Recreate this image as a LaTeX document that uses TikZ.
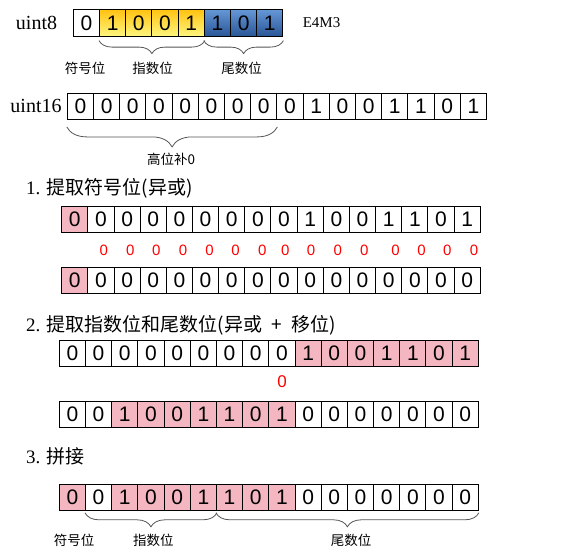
\documentclass[tikz,border=0pt]{standalone}
\usepackage{fontspec}
\setmainfont{Liberation Serif}
\newfontfamily\digitfont{Liberation Sans}
\newfontfamily\cjk{Noto Sans CJK SC}
\usetikzlibrary{decorations.pathreplacing}

\definecolor{cellpink}{RGB}{244,182,192}
\definecolor{goldtop}{RGB}{255,195,20}
\definecolor{goldbot}{RGB}{255,246,125}
\definecolor{bluetop}{RGB}{100,150,214}
\definecolor{bluebot}{RGB}{42,86,150}
\definecolor{bracegray}{RGB}{85,85,85}

\tikzset{
  bit/.style={draw, line width=1pt, minimum width=26.2pt, minimum height=26.2pt,
    inner sep=0pt, font=\digitfont\fontsize{21}{21}\selectfont},
  bitw/.style={bit, fill=white},
  bitp/.style={bit, fill=cellpink},
  bity/.style={bit, top color=goldtop, bottom color=goldbot},
  bitb/.style={bit, top color=bluetop, bottom color=bluebot},
  brc/.style={decorate, decoration={brace, mirror, amplitude=#1},
    draw=bracegray, line width=0.8pt},
  tag/.style={font=\cjk\fontsize{13.5}{13.5}\selectfont},
  heading/.style={anchor=west, font=\fontsize{19}{19}\selectfont},
  xorbit/.style={text=red, font=\digitfont\fontsize{15}{15}\selectfont}
}

\begin{document}
\begin{tikzpicture}[x=1pt, y=-1pt]
	\useasboundingbox (0,0) rectangle (579,555);

	% uint8 / E4M3
	\node[font=\fontsize{20}{20}\selectfont] (L8) at (36.5,23) {uint8};
	\foreach \b/\s [count=\i] in {0/bitw,1/bity,0/bity,0/bity,1/bity,1/bitb,0/bitb,1/bitb}
	  \node[\s] (u8-\i) at ({73.3+26.2*(\i-0.5)},23) {\b};
	\node[font=\fontsize{15}{15}\selectfont] (E) at (321.5,23) {E4M3};
	\draw[brc=13pt] ([yshift=-4pt]u8-2.south west) -- ([yshift=-4pt]u8-5.south east);
	\draw[brc=13pt] ([yshift=-4pt]u8-6.south west) -- ([yshift=-4pt]u8-8.south east);
	\node[tag] (S8) at (85,68) {符号位};
	\node[tag] (X8) at (152.5,68) {指数位};
	\node[tag] (M8) at (241.5,68) {尾数位};

	% uint16
	\node[font=\fontsize{20}{20}\selectfont] (L16) at (36,106.3) {uint16};
	\foreach \b [count=\i] in {0,0,0,0,0,0,0,0,0,1,0,0,1,1,0,1}
	  \node[bitw] (u16-\i) at ({67.3+26.2*(\i-0.5)},106.3) {\b};
	\draw[brc=20pt] ([yshift=-7pt]u16-1.south west) -- ([yshift=-7pt]u16-8.south east);
	\node[tag] (H) at (171,159) {高位补0};

	% 1.
	\node[heading] (T1) at (22.7,188.3) {1. {\cjk 提取符号位(异或)}};
	\foreach \b/\s [count=\i] in {0/bitp,0/bitw,0/bitw,0/bitw,0/bitw,0/bitw,0/bitw,0/bitw,
	    0/bitw,1/bitw,0/bitw,0/bitw,1/bitw,1/bitw,0/bitw,1/bitw}
	  \node[\s] (sx-\i) at ({61.7+26.16*(\i-0.5)},219.3) {\b};
	\foreach \x [count=\i] in {103.7,130.4,156.3,183,209.6,235.6,262.2,285.2,311.1,337.8,364.4,395.6,421.5,447.4,474}
	  \node[xorbit] (z-\i) at (\x,250.5) {0};
	\foreach \s [count=\i] in {bitp,bitw,bitw,bitw,bitw,bitw,bitw,bitw,bitw,bitw,bitw,bitw,bitw,bitw,bitw,bitw}
	  \node[\s] (sy-\i) at ({61.7+26.16*(\i-0.5)},280.3) {0};

	% 2.
	\node[heading] (T2) at (22.7,325) {2. {\cjk 提取指数位和尾数位(异或\hspace{0.5em}+\hspace{0.5em}移位)}};
	\foreach \b/\s [count=\i] in {0/bitw,0/bitw,0/bitw,0/bitw,0/bitw,0/bitw,0/bitw,0/bitw,
	    0/bitw,1/bitp,0/bitp,0/bitp,1/bitp,1/bitp,0/bitp,1/bitp}
	  \node[\s] (ex-\i) at ({59.3+26.19*(\i-0.5)},353.3) {\b};
	\node[xorbit, font=\digitfont\fontsize{17}{17}\selectfont] (z0) at (282.2,381.7) {0};
	\foreach \b/\s [count=\i] in {0/bitw,0/bitw,1/bitp,0/bitp,0/bitp,1/bitp,1/bitp,0/bitp,
	    1/bitp,0/bitw,0/bitw,0/bitw,0/bitw,0/bitw,0/bitw,0/bitw}
	  \node[\s] (ey-\i) at ({59.3+26.19*(\i-0.5)},414.2) {\b};

	% 3.
	\node[heading] (T3) at (22.7,456.5) {3. {\cjk 拼接}};
	\foreach \b/\s [count=\i] in {0/bitp,0/bitw,1/bitp,0/bitp,0/bitp,1/bitp,1/bitp,0/bitp,
	    1/bitp,0/bitw,0/bitw,0/bitw,0/bitw,0/bitw,0/bitw,0/bitw}
	  \node[\s] (cat-\i) at ({59.3+26.19*(\i-0.5)},497.2) {\b};
	\draw[brc=14pt] ([yshift=-2pt]cat-2.south west) -- ([yshift=-2pt]cat-6.south east);
	\draw[brc=14pt] ([yshift=-2pt]cat-7.south west) -- ([yshift=-2pt]cat-16.south east);
	\node[tag] (S16) at (74,540) {符号位};
	\node[tag] (X16) at (153.3,540) {指数位};
	\node[tag] (M16) at (351,540) {尾数位};
\end{tikzpicture}
\end{document}
